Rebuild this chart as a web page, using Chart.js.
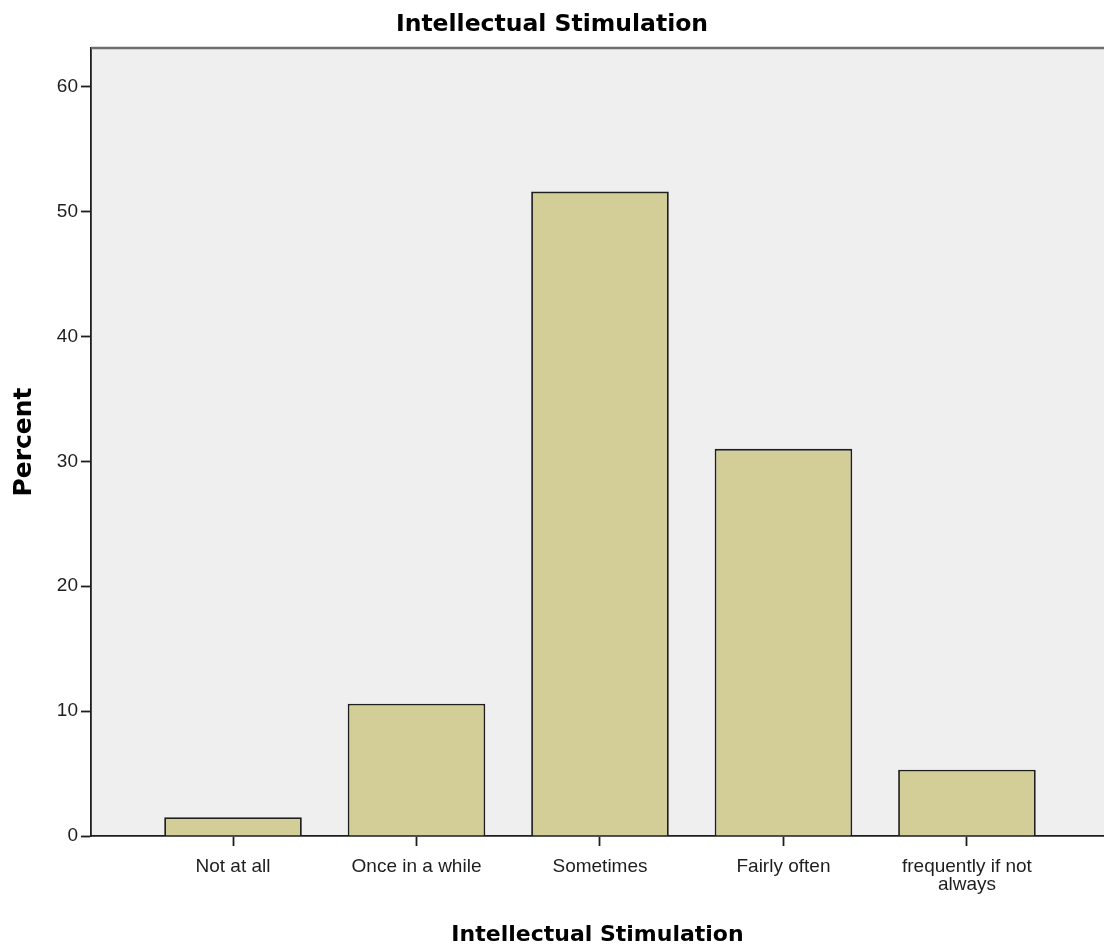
<!DOCTYPE html>
<html>
<head>
<meta charset="utf-8">
<script src="https://cdn.jsdelivr.net/npm/chart.js@4/dist/chart.umd.min.js"></script>
<style>
  html, body { margin: 0; padding: 0; background: #fff; }
  #wrap { width: 1104px; height: 949px; }
</style>
</head>
<body>
<div id="wrap"><canvas id="chart" width="1104" height="949"></canvas></div>
<script>
  const categories = ["Not at all", "Once in a while", "Sometimes", "Fairly often", ["frequently if not", "always"]];
  const percents = [1.5, 10.6, 51.6, 31.0, 5.3];
  const yTicks = [0, 10, 20, 30, 40, 50, 60];

  const INK = "#1e1e1e";
  const SANS = "'Liberation Sans', Arial, sans-serif";
  const BOLD = "'DejaVu Sans', Verdana, sans-serif";
  const TICK_FONT = { family: SANS, size: 19, lineHeight: 0.95 };

  // grey plot background + grey top frame line
  const plotFrame = {
    id: "plotFrame",
    beforeDraw(chart) {
      const { ctx, chartArea: a } = chart;
      ctx.save();
      ctx.fillStyle = "#efefef";
      ctx.fillRect(a.left, a.top, a.right - a.left, a.bottom - a.top);
      ctx.restore();
    },
    afterDraw(chart) {
      const { ctx, chartArea: a } = chart;
      ctx.save();
      ctx.strokeStyle = "#6e6e6e";
      ctx.lineWidth = 2.5;
      ctx.beginPath();
      ctx.moveTo(a.left, a.top);
      ctx.lineTo(a.right, a.top);
      ctx.stroke();
      ctx.restore();
    },
  };

  new Chart(document.getElementById("chart"), {
    type: "bar",
    data: {
      datasets: [
        {
          label: "Percent",
          data: percents.map((v, i) => ({ x: i, y: v })),
          backgroundColor: "#d3ce97",
          borderColor: INK,
          borderWidth: 1.8,
          categoryPercentage: 1,
          barPercentage: 0.75,
        },
      ],
    },
    options: {
      responsive: false,
      animation: false,
      layout: { padding: 0 },
      scales: {
        x: {
          type: "linear",
          offset: false,
          min: -0.774,
          max: 4.747,
          afterBuildTicks: (axis) => {
            axis.ticks = categories.map((_, i) => ({ value: i }));
          },
          afterFit: (axis) => {
            axis.height = 113;
          },
          ticks: {
            autoSkip: false,
            maxRotation: 0,
            padding: 12,
            color: INK,
            font: TICK_FONT,
            callback: (v) => categories[v],
          },
          grid: {
            offset: false,
            drawOnChartArea: false,
            tickLength: 10,
            tickColor: INK,
            tickWidth: 1.8,
          },
          border: { display: true, color: INK, width: 1.8 },
          title: {
            display: true,
            text: "Intellectual Stimulation",
            color: "#000",
            font: { family: BOLD, size: 22, weight: "bold" },
            padding: { top: 0, bottom: 1 },
          },
        },
        y: {
          min: 0,
          max: 63.1,
          afterBuildTicks: (axis) => {
            axis.ticks = yTicks.map((v) => ({ value: v }));
          },
          afterFit: (axis) => {
            axis.width = 91;
          },
          ticks: {
            padding: 3,
            color: INK,
            font: TICK_FONT,
          },
          grid: {
            drawOnChartArea: false,
            tickLength: 10,
            tickColor: INK,
            tickWidth: 1.8,
          },
          border: { display: true, color: INK, width: 1.8 },
          title: {
            display: true,
            text: "Percent",
            color: "#000",
            font: { family: BOLD, size: 25, weight: "bold" },
            padding: { top: 9, bottom: 0 },
          },
        },
      },
      plugins: {
        legend: { display: false },
        tooltip: { enabled: false },
        title: {
          display: true,
          text: "Intellectual Stimulation",
          color: "#000",
          font: { family: BOLD, size: 23.5, weight: "bold" },
          padding: { top: 11, bottom: 8.8 },
        },
      },
    },
    plugins: [plotFrame],
  });
</script>
</body>
</html>
